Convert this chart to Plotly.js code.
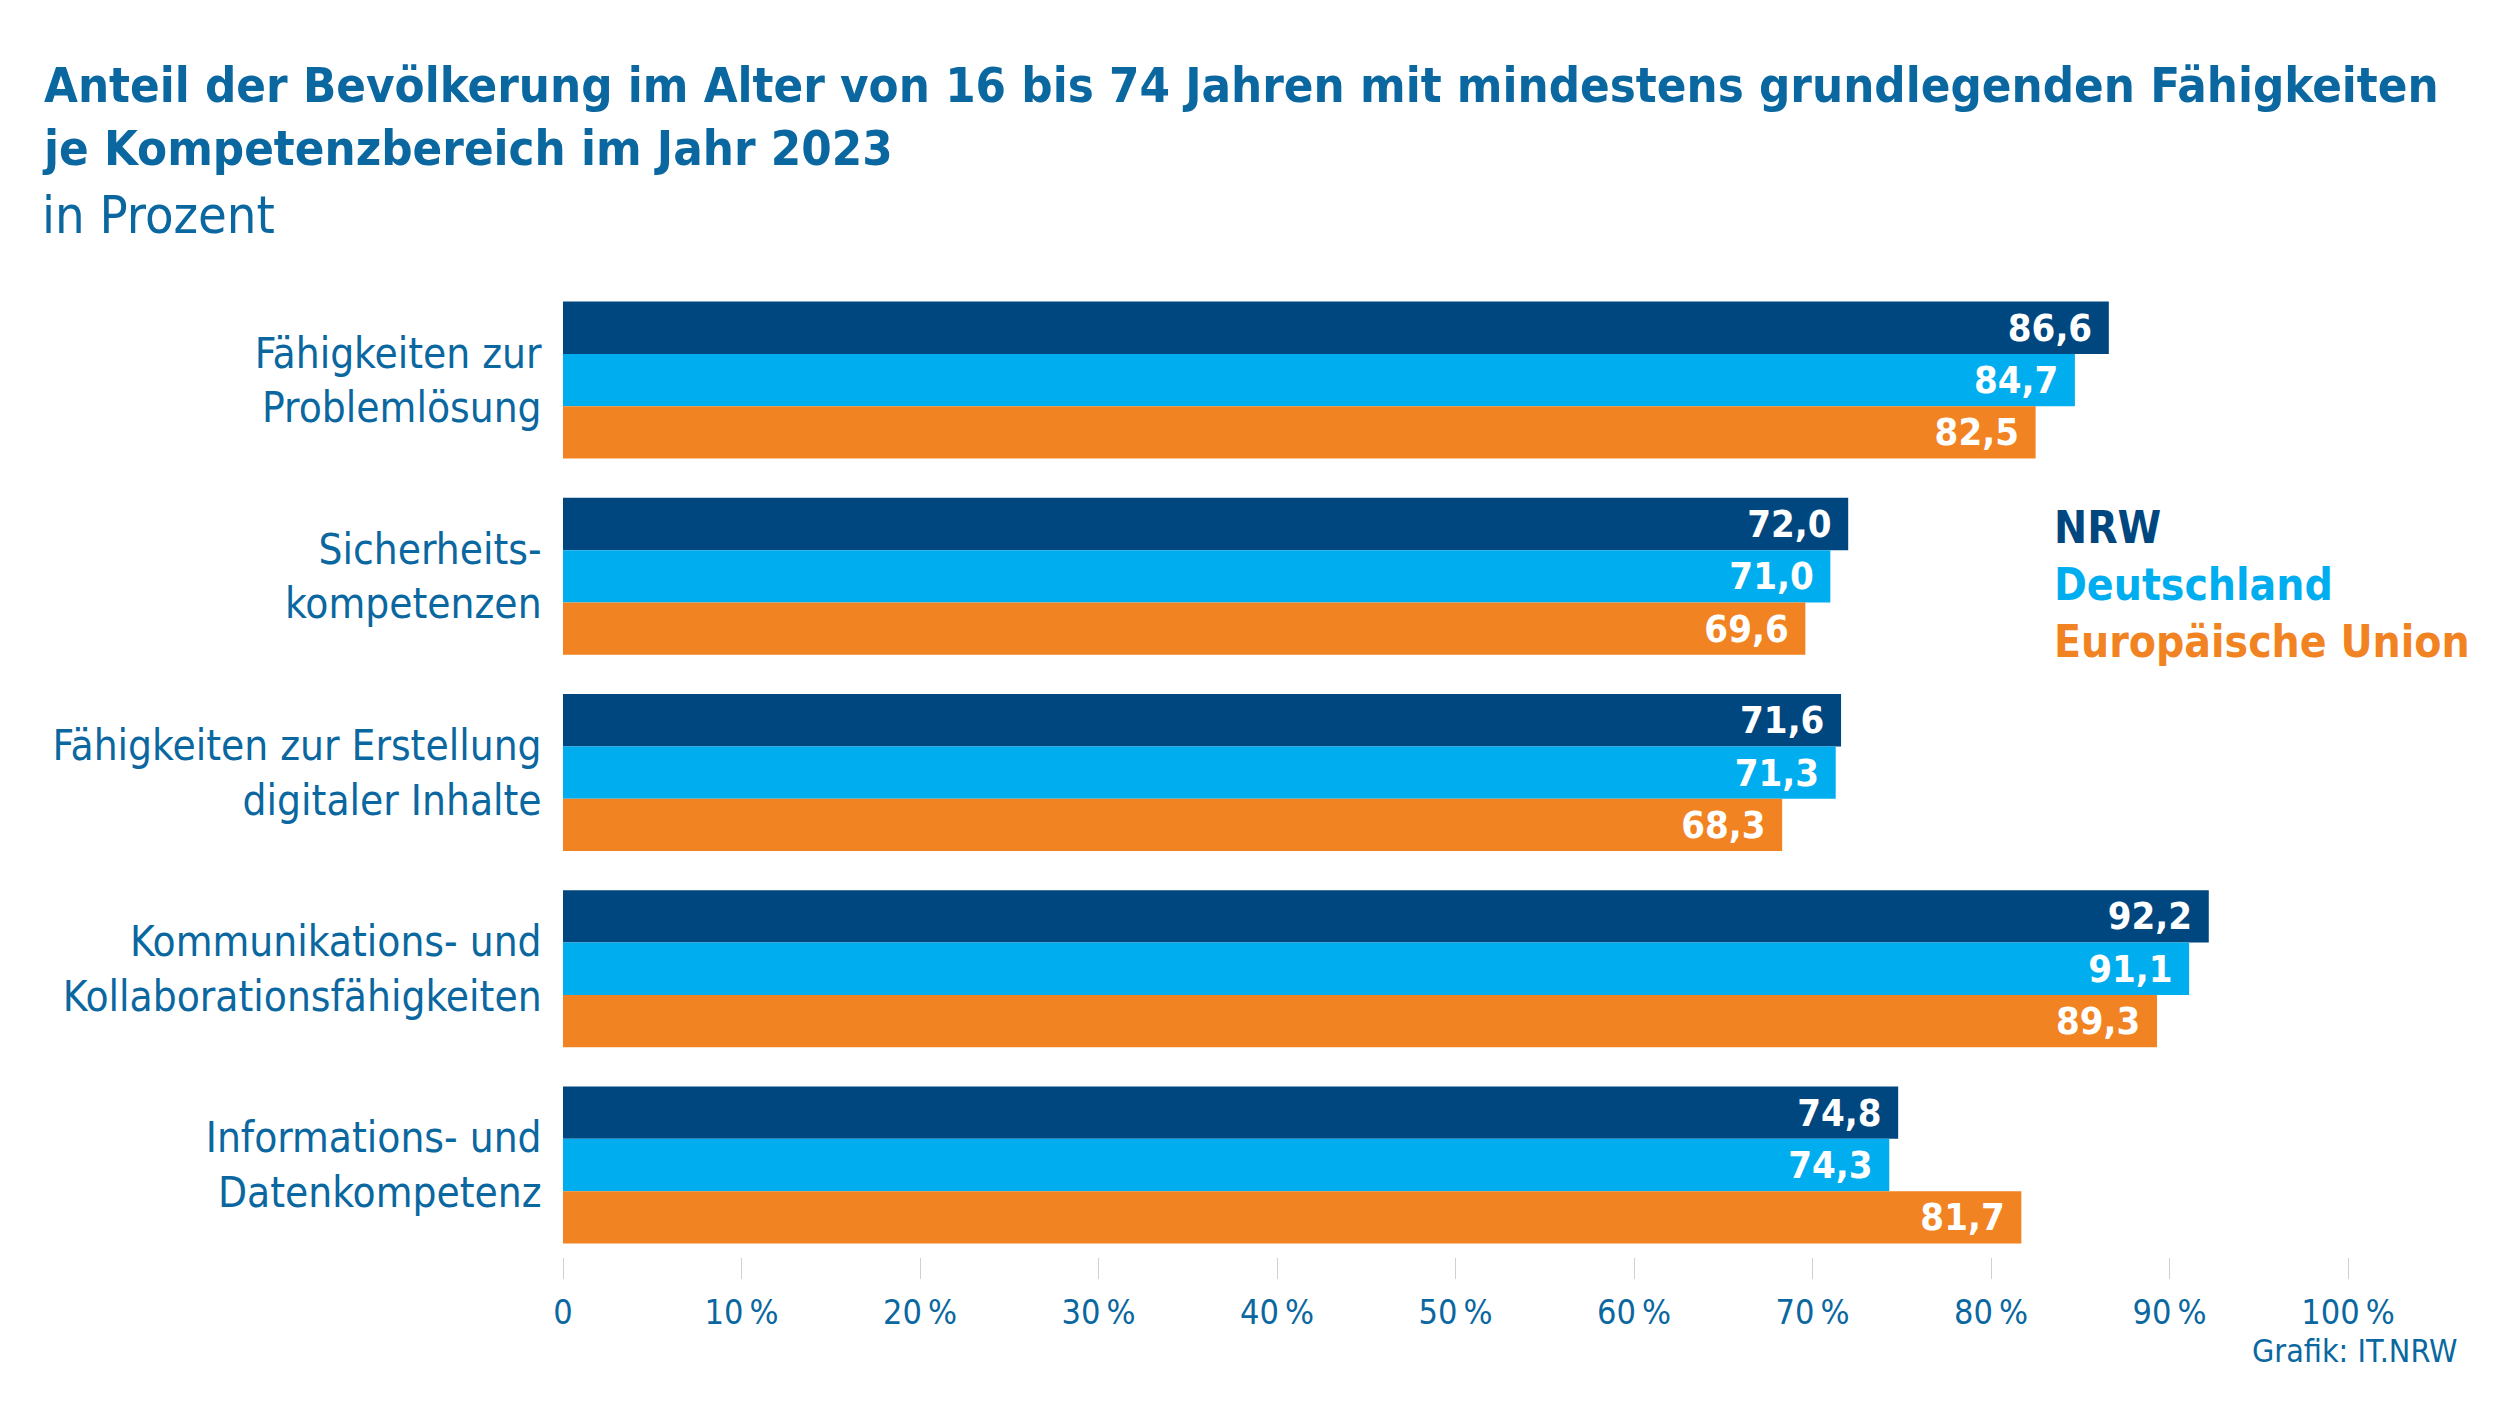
<!DOCTYPE html>
<html>
<head>
<meta charset="utf-8">
<script src="https://cdn.plot.ly/plotly-3.0.1.min.js"></script>
<style>
html,body{margin:0;padding:0;background:#fff;}
#chart{width:2500px;height:1406px;}
</style>
</head>
<body>
<div id="chart"></div>
<script>
// ---- data ----
const categories = [
  "Fähigkeiten zur<br>Problemlösung",
  "Sicherheits-<br>kompetenzen",
  "Fähigkeiten zur Erstellung<br>digitaler Inhalte",
  "Kommunikations- und<br>Kollaborationsfähigkeiten",
  "Informations- und<br>Datenkompetenz"
];
const seriesNames = ["NRW", "Deutschland", "Europäische Union"];
const nrw = [86.6, 72.0, 71.6, 92.2, 74.8];
const deutschland = [84.7, 71.0, 71.3, 91.1, 74.3];
const eu = [82.5, 69.6, 68.3, 89.3, 81.7];
const tickValues = [0, 10, 20, 30, 40, 50, 60, 70, 80, 90, 100];
const tickLabels = ["0", "10\u202f%", "20\u202f%", "30\u202f%", "40\u202f%", "50\u202f%", "60\u202f%", "70\u202f%", "80\u202f%", "90\u202f%", "100\u202f%"];
const titleText = "Anteil der Bevölkerung im Alter von 16 bis 74 Jahren mit mindestens grundlegenden Fähigkeiten<br>je Kompetenzbereich im Jahr 2023";
const subtitleText = "in Prozent";
const sourceText = "Grafik: IT.NRW";

// ---- style ----
const colors = ["#00467f", "#00aeef", "#f28322"];
const textBlue = "#0a67a0";
const FONT = "'DejaVu Sans Condensed', 'Liberation Sans Narrow', 'Arial Narrow', sans-serif";

const PLOT_TOP = 282, PLOT_BOTTOM = 1257, PLOT_LEFT = 563, PLOT_RIGHT = 2348;
const PH = PLOT_BOTTOM - PLOT_TOP, PW = PLOT_RIGHT - PLOT_LEFT;
const py = Y => (PLOT_BOTTOM - Y) / PH;   // pixel -> paper y
const px = X => (X - PLOT_LEFT) / PW;     // pixel -> paper x

const fmt = v => v.toFixed(1).replace(".", ",") + "\u2009\u2009";
const allSeries = [nrw, deutschland, eu];

const traces = allSeries.map((vals, i) => ({
  type: "bar",
  orientation: "h",
  name: seriesNames[i],
  y: categories,
  x: vals,
  marker: {color: colors[i], line: {width: 0}},
  text: vals.map(fmt),
  textposition: "inside",
  insidetextanchor: "end",
  textangle: 0,
  textfont: {family: FONT, size: 38, color: "#ffffff", weight: "bold"},
  hoverinfo: "skip",
  cliponaxis: false
}));

const legendAnns = seriesNames.map((n, i) => ({
  xref: "paper", yref: "paper",
  x: px(2052),
  y: py(555 + i * 57),
  xanchor: "left", yanchor: "bottom",
  text: "<b>" + n + "</b>",
  showarrow: false,
  font: {family: FONT, size: 44, color: colors[i]}
}));

const layout = {
  width: 2500, height: 1406,
  paper_bgcolor: "#ffffff", plot_bgcolor: "#ffffff",
  margin: {l: PLOT_LEFT, r: 2500 - PLOT_RIGHT, t: PLOT_TOP, b: 1406 - PLOT_BOTTOM, pad: 0},
  barmode: "group",
  bargap: 0.2,
  bargroupgap: 0,
  showlegend: false,
  font: {family: FONT, color: textBlue},
  xaxis: {
    range: [0, 100],
    tickmode: "array",
    tickvals: tickValues,
    ticktext: tickLabels,
    ticks: "outside", ticklen: 21, tickwidth: 1, tickcolor: "#d0d0d0",
    showgrid: false, zeroline: false, showline: false,
    tickfont: {family: FONT, size: 34, color: textBlue},
    ticklabelstandoff: 4,
    fixedrange: true
  },
  yaxis: {
    type: "category",
    range: [4.469, -0.5],
    ticks: "outside", ticklen: 12, tickcolor: "rgba(0,0,0,0)",
    showgrid: false, zeroline: false, showline: false,
    tickfont: {family: FONT, size: 42, color: textBlue},
    fixedrange: true
  },
  annotations: [
    {
      xref: "paper", yref: "paper",
      x: px(40), y: py(55),
      xanchor: "left", yanchor: "top", align: "left",
      text: "<b>" + titleText + "</b>", showarrow: false,
      font: {family: FONT, size: 48.7, color: textBlue}
    },
    {
      xref: "paper", yref: "paper",
      x: px(40), y: py(247),
      xanchor: "left", yanchor: "bottom",
      text: subtitleText, showarrow: false,
      font: {family: FONT, size: 52, color: textBlue}
    },
    {
      xref: "paper", yref: "paper",
      x: px(2460), y: py(1372),
      xanchor: "right", yanchor: "bottom",
      text: sourceText, showarrow: false,
      font: {family: FONT, size: 32, color: textBlue}
    }
  ].concat(legendAnns)
};

Plotly.newPlot("chart", traces, layout, {displayModeBar: false, staticPlot: true});
</script>
</body>
</html>
